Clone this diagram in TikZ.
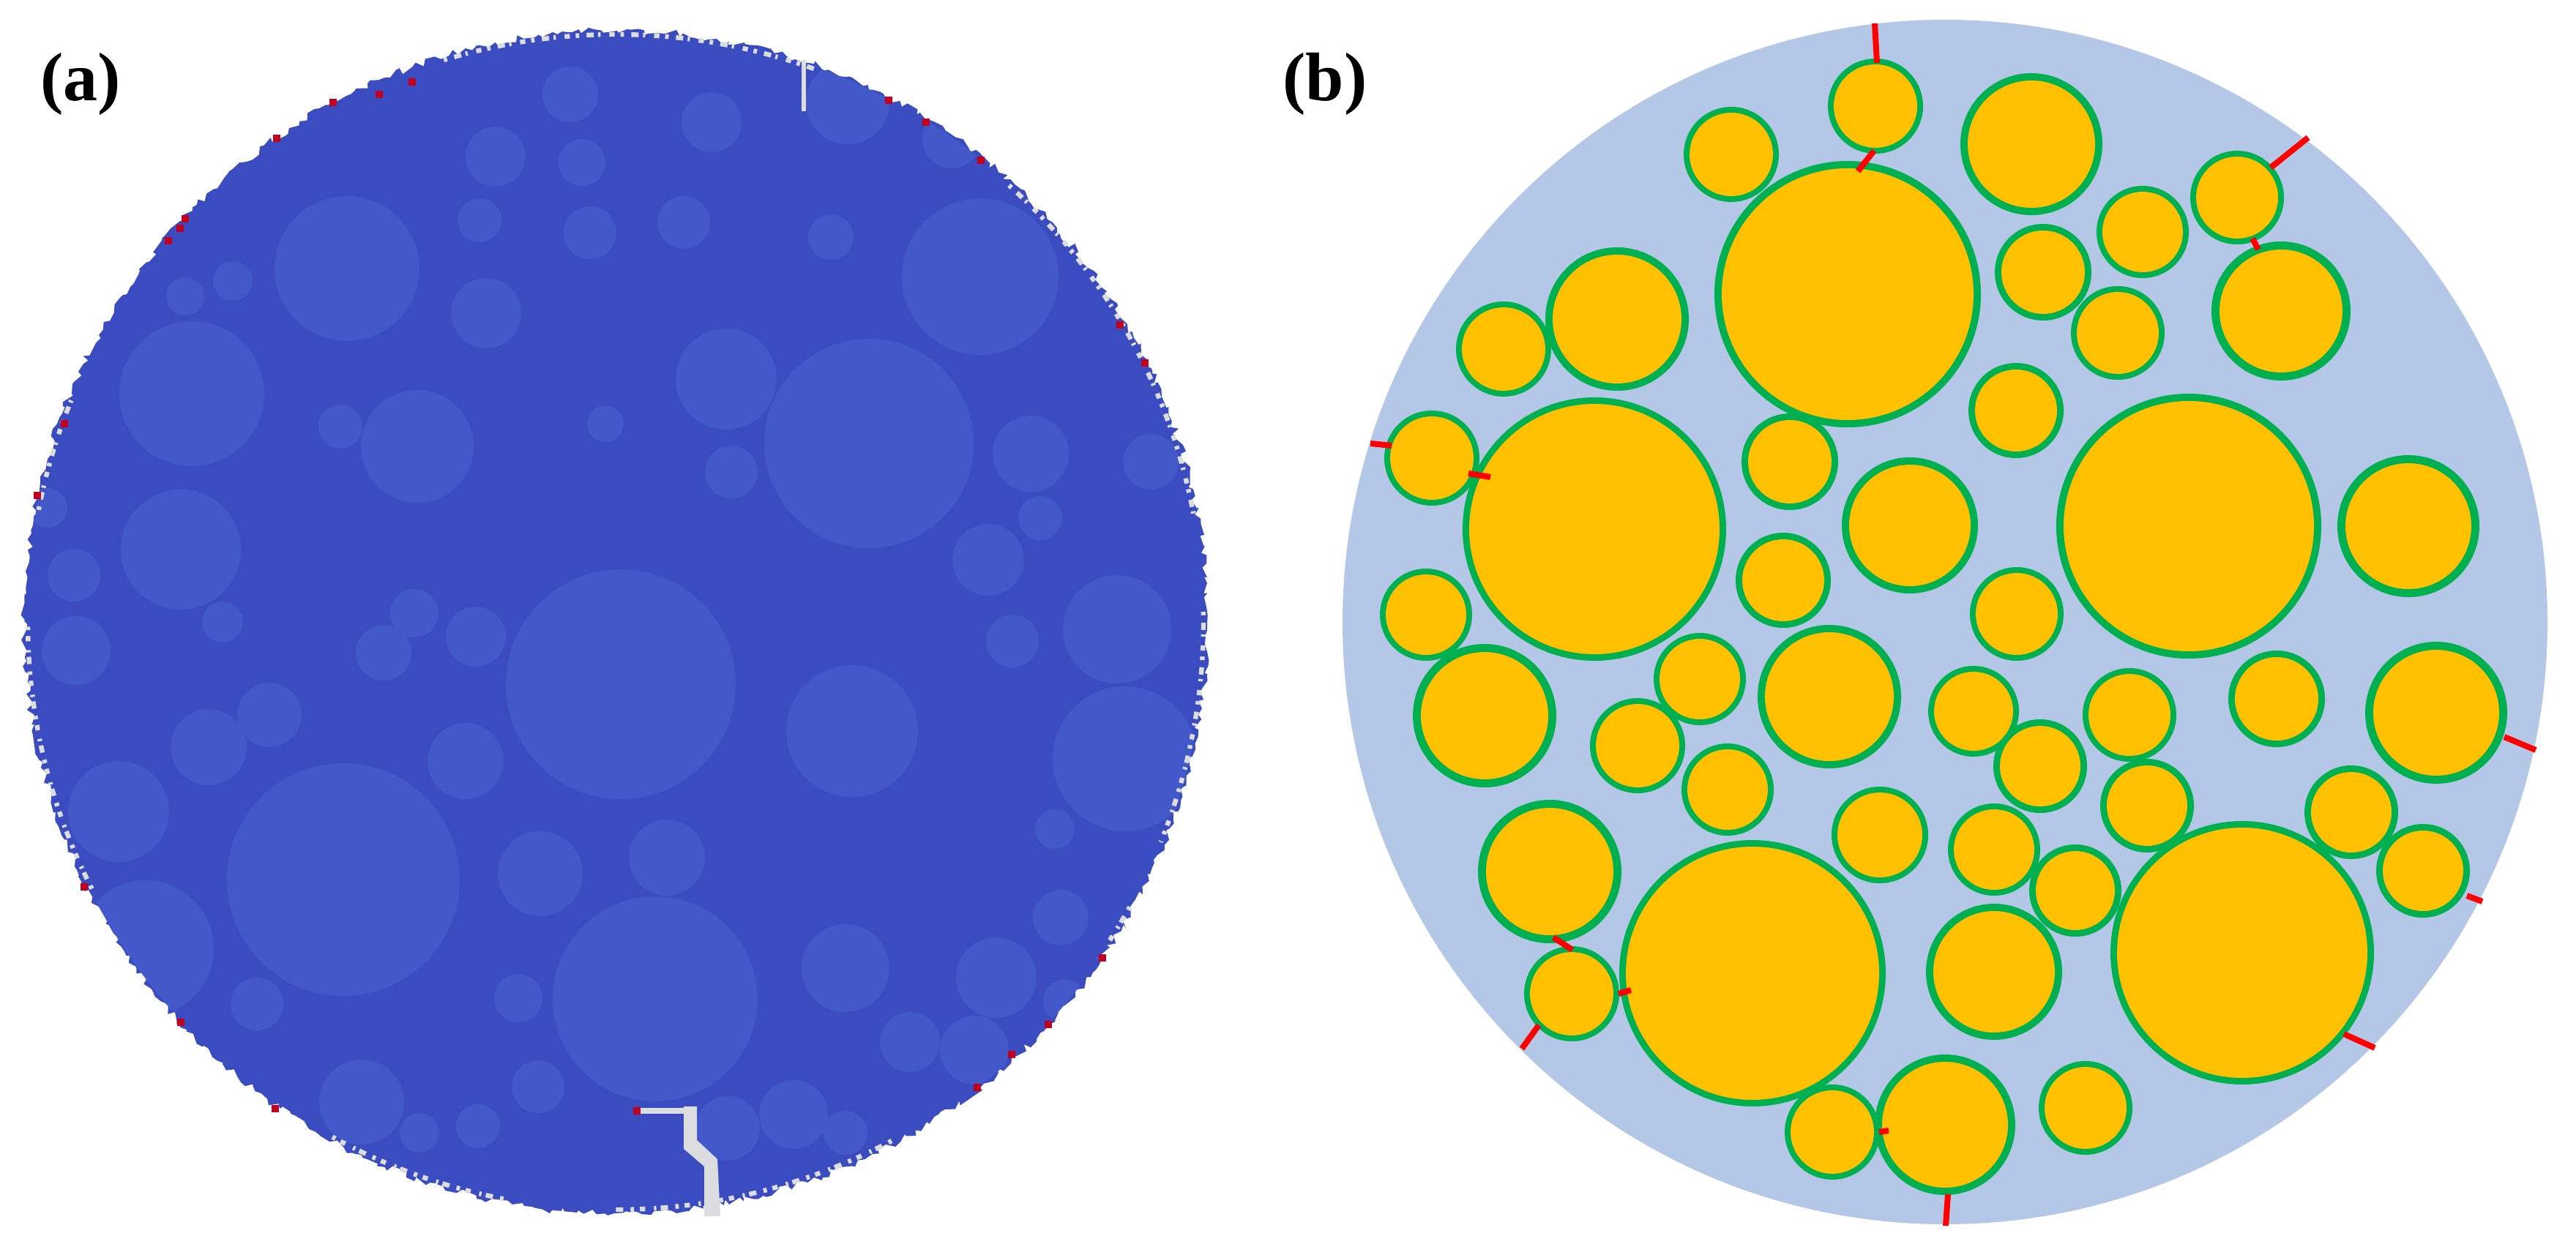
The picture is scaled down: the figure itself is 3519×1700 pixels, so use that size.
\documentclass[tikz,border=0pt]{standalone}
\usepackage{fontspec}
\setmainfont{Liberation Serif}
\usetikzlibrary{decorations.pathmorphing}
\definecolor{abg}{HTML}{3A4CC0}
\definecolor{ainc}{HTML}{4358C9}
\definecolor{agrey}{HTML}{DCDDE0}
\definecolor{ared}{HTML}{C00020}
\definecolor{bbg}{HTML}{B4C7E7}
\definecolor{byel}{HTML}{FFC000}
\definecolor{bgrn}{HTML}{00B050}
\definecolor{bred}{HTML}{FF0000}
\begin{document}
\begin{tikzpicture}[x=0.25pt,y=-0.25pt,
  lbl/.style={font=\fontsize{23.5}{28}\selectfont\bfseries, inner sep=0pt},
  crackmark/.style={bred, line width=2pt},
  dmgdot/.style={ared},
  greyband/.style={agrey, line width=1.6pt, dash pattern=on 1.2pt off 2.5pt on 2.5pt off 1.5pt on 0.8pt off 3pt on 1.8pt off 2pt}]
\useasboundingbox (0,0) rectangle (3519,1700);
\fill[white] (0,0) rectangle (3519,1700);

% ---------------- panel (a)
\pgfmathsetseed{11}
\fill[abg, decorate, decoration={random steps, segment length=1.8pt, amplitude=1.3pt}]
  (841,850) circle[radius=808];
\begin{scope}
\clip (841,850) circle[radius=806];
\foreach \x/\y/\r in {
 779/129/38, 677/214/41, 795/222/32, 655/301/30, 806/318/36, 664/428/48,
 474/367/99, 318/384/27, 253/405/26, 262/538/99, 465/583/30, 570/610/77,
 827/579/25, 247/751/82, 101/786/36, 65/694/27, 566/838/33, 304/850/28,
 650/870/41, 524/892/38, 972/167/41, 1158/140/57, 1300/190/40, 934/304/36,
 1135/324/31, 1339/378/107, 992/518/69, 1187/606/143, 999/645/36,
 1408/620/52, 1421/708/30, 1572/631/38, 1350/765/49, 104/889/47,
 368/977/44, 285/1021/52, 162/1109/69, 636/1040/52, 848/935/157,
 469/1202/159, 738/1194/58, 351/1372/36, 708/1364/33, 735/1485/36,
 494/1506/58, 573/1548/27, 653/1539/30, 199/1296/93, 895/1365/140,
 1383/876/36, 1526/860/74, 1164/999/90, 1537/1037/99, 911/1172/52,
 1441/1133/27, 1155/1323/60, 1449/1254/38, 1361/1336/55, 1243/1424/41,
 1331/1435/47, 1455/1368/30, 1084/1523/47, 1155/1548/30, 994/1542/44}
 \fill[ainc] (\x,\y) circle[radius=\r];
\end{scope}
% grey damaged rim
\foreach \a/\b in {-48/-10, -1/22, 29/33, 62/90, 101/119, 153/180, 191/203, 253/290}
  \draw[greyband] ([shift={(841,850)}]\a:803) arc[start angle=\a, end angle=\b, radius=803];
% cracks
\draw[agrey, line width=1.5pt] (1098,82) -- (1098,152);
\draw[agrey, line width=2pt] (872,1518) -- (950,1518);
\fill[agrey] (934,1512) -- (952,1512) -- (952,1558) -- (980,1584) -- (984,1662)
  -- (962,1662) -- (962,1594) -- (934,1570) -- cycle;
% red damage dots
\foreach \x/\y in {455/140, 518/129, 563/112, 378/189, 253/299, 246/312, 230/329,
  88/579, 51/677, 1214/137, 1265/167, 1340/219, 1530/444, 1564/496, 115/1212,
  247/1397, 376/1515, 870/1518, 1506/1309, 1432/1400, 1382/1441, 1335/1486}
  \fill[dmgdot] (\x-5,\y-5) rectangle (\x+5,\y+5);
\node[lbl] (la) at (110,115) {(a)};

% ---------------- panel (b)
\fill[bbg] (2657,850) circle[radius=823];
\foreach \x/\y/\r/\w in {
 2562/145/65/8, 2524/402/182/10, 2365/211/65/8, 2054/477/65/8, 2209/436/98/10,
 1956/626/65/8, 2178/723/180/9, 2445/631/66/9, 2609/718/93/10, 2436/793/65/9,
 1948/840/63/8, 2775/197/97/10, 2791/372/66/9, 2927/317/63/8, 3056/270/64/8,
 3116/425/95/11, 2893/455/64/8, 2754/561/65/9, 2990/719/181/10, 3290/719/97/11,
 2755/839/64/8, 2028/978/98/11, 2322/928/63/8, 2237/1019/65/8, 2360/1079/63/8,
 2499/952/98/10, 2568/1141/66/8, 2117/1191/98/11, 2147/1358/65/8, 2394/1330/182/9,
 2503/1547/65/8, 2657/1537/96/10, 2696/972/62/8, 2787/1047/64/9, 2909/977/64/8,
 3110/955/66/9, 3328/974/97/11, 2933/1101/64/9, 2724/1161/63/8, 2835/1217/63/9,
 3212/1110/64/9, 3310/1190/64/9, 3063/1302/180/9, 2724/1328/93/10, 2849/1514/64/8}
{
 \fill[bgrn] (\x,\y) circle[radius=\r];
 \fill[byel] (\x,\y) circle[radius=\r-\w];
}
% crack marks
\foreach \ax/\ay/\bx/\by in {
 2561/32/2564/86, 2538/234/2560/206, 1872/606/1901/609, 2006/647/2036/652,
 3102/229/3153/188, 3077/326/3085/341, 2122/1281/2148/1298, 2211/1358/2228/1353,
 2102/1401/2079/1433, 2567/1547/2580/1545, 2661/1632/2658/1675,
 3421/1007/3464/1025, 3370/1224/3391/1232, 3202/1413/3244/1432}
 \draw[crackmark] (\ax,\ay) -- (\bx,\by);
\node[lbl] (lb) at (1810,115) {(b)};
\end{tikzpicture}
\end{document}
